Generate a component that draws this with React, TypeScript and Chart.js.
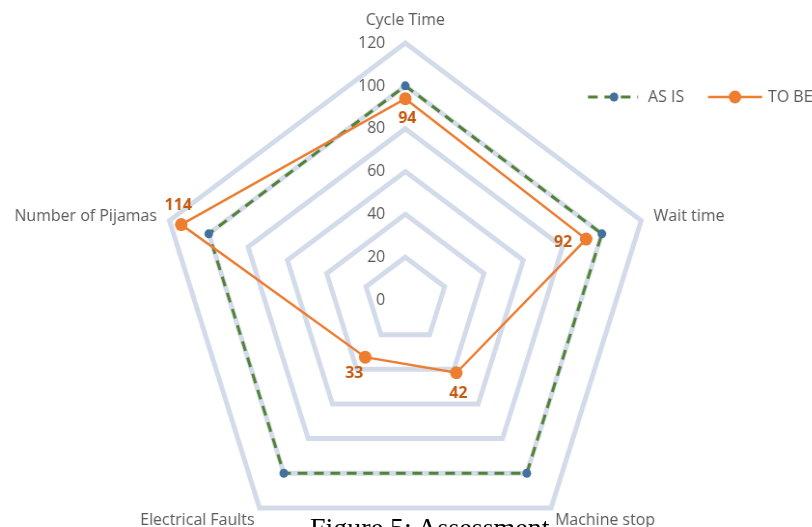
import React, { useEffect, useRef } from "react";
import { Chart, registerables } from "chart.js";

Chart.register(...registerables);

// ---- data ----
const categories = ["Cycle Time", "Wait time", "Machine stop", "Electrical Faults", "Number of Pijamas"];
const asIsValues = [100, 100, 100, 100, 100];
const toBeValues = [94, 92, 42, 33, 114];
const seriesNames = ["AS IS", "TO BE"];
const axisMin = 0;
const axisMax = 120;
const axisStep = 20;
const captionText = "Figure 5: Assessment";

// ---- layout / style (not data) ----
const SX = 0.965; // horizontal squeeze of the original figure
const CANVAS_W = Math.round(812 / SX);
const CANVAS_H = 600;
const FONT = '"Open Sans", "Noto Sans", sans-serif';
const TEXT_GRAY = "#595959";
const GREEN = "#548235";
const BLUE = "#41719C";
const ORANGE = "#ED7D31";
const LABEL_ORANGE = "#C55A11";

const pointLabelLayout = [
  { align: "center", dx: 0, dy: -23 },
  { align: "left", dx: 12.5, dy: -4 },
  { align: "left", dx: 4, dy: 12 },
  { align: "right", dx: -5, dy: 12 },
  { align: "right", dx: -12.5, dy: -4 },
];

const dataLabelLayout = [
  { align: "center", dx: 2, dy: 20 },
  { align: "right", dx: -14, dy: 3 },
  { align: "center", dx: 2, dy: 21 },
  { align: "center", dx: -11, dy: 16 },
  { align: "center", dx: -3, dy: -19 },
];

const overlayPlugin = {
  id: "overlay",
  afterDraw(chart: any) {
    const scale = chart.scales.r;
    const ctx = chart.ctx as CanvasRenderingContext2D;
    ctx.save();

    // tick labels, left of the vertical axis
    ctx.font = `16.5px ${FONT}`;
    ctx.fillStyle = TEXT_GRAY;
    ctx.textAlign = "right";
    ctx.textBaseline = "middle";
    scale.ticks.forEach((t: any) => {
      const p = scale.getPointPositionForValue(0, t.value);
      ctx.fillText(String(t.value), scale.xCenter - 20 / SX, p.y);
    });

    // category labels
    categories.forEach((c, i) => {
      const p = scale.getPointPosition(i, scale.drawingArea);
      const l = pointLabelLayout[i];
      ctx.textAlign = l.align as CanvasTextAlign;
      ctx.fillText(c, p.x + l.dx / SX, p.y + l.dy);
    });

    // data labels for TO BE
    ctx.font = `bold 16.5px ${FONT}`;
    ctx.fillStyle = LABEL_ORANGE;
    toBeValues.forEach((v, i) => {
      const p = scale.getPointPositionForValue(i, v);
      const l = dataLabelLayout[i];
      ctx.textAlign = l.align as CanvasTextAlign;
      ctx.fillText(String(v), p.x + l.dx / SX, p.y + l.dy);
    });

    // legend
    const ly = 97;
    ctx.lineWidth = 3;
    ctx.strokeStyle = GREEN;
    ctx.setLineDash([10, 7]);
    ctx.beginPath();
    ctx.moveTo(588 / SX, ly);
    ctx.lineTo(638 / SX, ly);
    ctx.stroke();
    ctx.setLineDash([]);
    ctx.fillStyle = BLUE;
    ctx.beginPath();
    ctx.arc(614 / SX, ly, 4.5, 0, Math.PI * 2);
    ctx.fill();
    ctx.strokeStyle = ORANGE;
    ctx.lineWidth = 2.5;
    ctx.beginPath();
    ctx.moveTo(708 / SX, ly);
    ctx.lineTo(762 / SX, ly);
    ctx.stroke();
    ctx.fillStyle = ORANGE;
    ctx.beginPath();
    ctx.arc(735 / SX, ly, 6.5, 0, Math.PI * 2);
    ctx.fill();
    ctx.font = `16.5px ${FONT}`;
    ctx.fillStyle = TEXT_GRAY;
    ctx.textAlign = "left";
    ctx.fillText(seriesNames[0], 648 / SX, ly);
    ctx.fillText(seriesNames[1], 768 / SX, ly);

    ctx.restore();
  },
};

export default function App() {
  const canvasRef = useRef<HTMLCanvasElement | null>(null);

  useEffect(() => {
    if (!canvasRef.current) return;
    const chart = new Chart(canvasRef.current, {
      type: "radar",
      data: {
        labels: categories,
        datasets: [
          {
            label: seriesNames[0],
            data: asIsValues,
            borderColor: GREEN,
            borderWidth: 3,
            borderDash: [10, 7],
            backgroundColor: "transparent",
            fill: false,
            pointRadius: 4.5,
            pointBorderWidth: 0,
            pointBackgroundColor: BLUE,
            pointBorderColor: BLUE,
            order: 1,
          },
          {
            label: seriesNames[1],
            data: toBeValues,
            borderColor: ORANGE,
            borderWidth: 2.5,
            backgroundColor: "transparent",
            fill: false,
            pointRadius: 6.5,
            pointBorderWidth: 0,
            pointBackgroundColor: ORANGE,
            pointBorderColor: ORANGE,
            order: 0,
          },
        ],
      },
      options: {
        animation: false,
        responsive: true,
        maintainAspectRatio: false,
        layout: { padding: { top: 43, bottom: 43, left: 0, right: 1 } },
        plugins: { legend: { display: false }, tooltip: { enabled: false } },
        elements: { line: { tension: 0 } },
        scales: {
          r: {
            min: axisMin,
            max: axisMax,
            ticks: { stepSize: axisStep, display: false },
            pointLabels: { display: false },
            angleLines: { display: false },
            grid: { color: "#D3DBEA", lineWidth: 5 },
          },
        },
      },
      plugins: [overlayPlugin],
    });
    return () => chart.destroy();
  }, []);

  return (
    <div
      style={{
        position: "fixed",
        left: 0,
        top: 0,
        width: 812,
        height: 527,
        overflow: "hidden",
        background: "#fff",
      }}
    >
      <div
        style={{
          position: "absolute",
          left: 0,
          top: 0,
          width: CANVAS_W,
          height: CANVAS_H,
          transform: `scaleX(${SX})`,
          transformOrigin: "0 0",
        }}
      >
        <canvas ref={canvasRef} />
      </div>
      <div
        style={{
          position: "absolute",
          left: 310,
          top: 514,
          fontFamily: '"Liberation Serif", "Times New Roman", serif',
          fontSize: 28,
          lineHeight: "28px",
          color: "#000",
          whiteSpace: "nowrap",
        }}
      >
        {captionText}
      </div>
    </div>
  );
}
